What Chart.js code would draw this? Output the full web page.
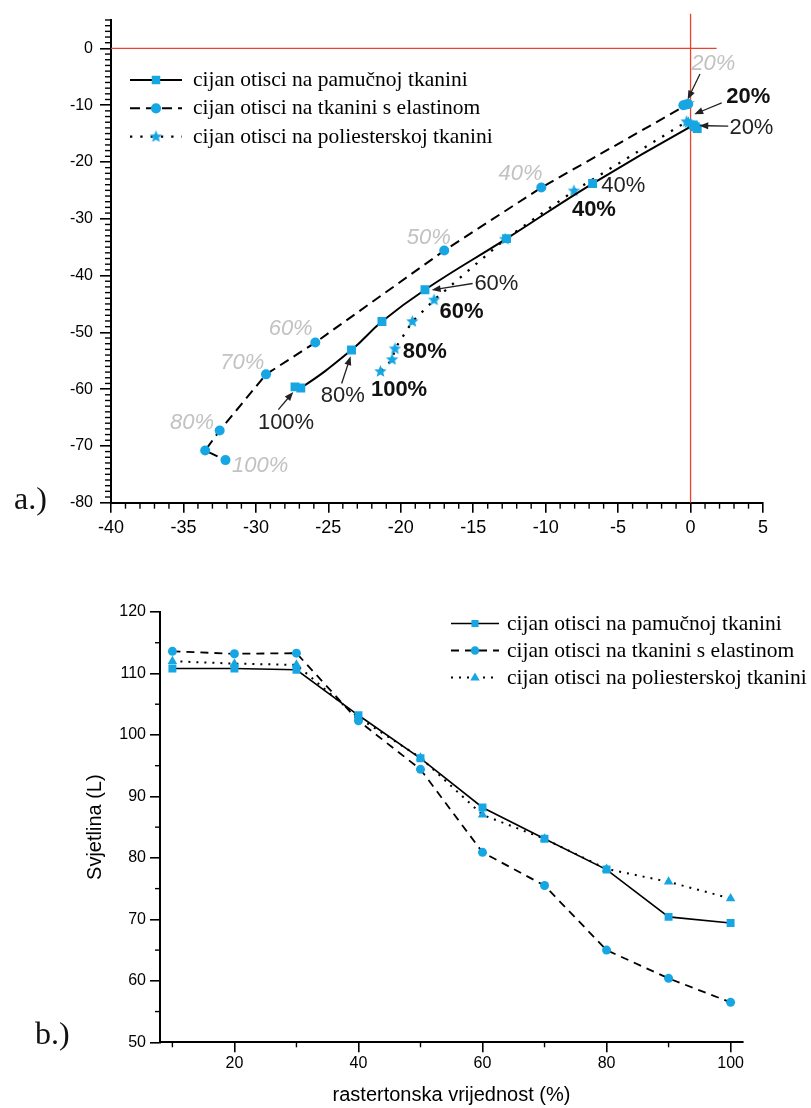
<!DOCTYPE html>
<html>
<head>
<meta charset="utf-8">
<script src="https://cdn.jsdelivr.net/npm/chart.js@4.4.1/dist/chart.umd.min.js"></script>
<style>
body { margin: 0; background: #fff; }
#wrap { position: relative; width: 811px; height: 1108px; }
#chartA { position: absolute; left: 0; top: 0; }
#chartB { position: absolute; left: 0; top: 560px; }
</style>
</head>
<body>
<div id="wrap">
<canvas id="chartA" width="811" height="545"></canvas>
<canvas id="chartB" width="811" height="548"></canvas>
</div>
<script>
// series names (same for both panels)
var seriesNames = ['cijan otisci na pamučnoj tkanini', 'cijan otisci na tkanini s elastinom', 'cijan otisci na poliesterskoj tkanini'];
var rasterValues = [10, 20, 30, 40, 50, 60, 70, 80, 90, 100];

// panel a.), 10% ... 100%
var pamukX = [0.46, 0.32, 0.19, -6.76, -12.7, -18.33, -21.3, -23.4, -26.9, -27.3];
var pamukY = [-14.1, -13.8, -13.5, -23.8, -33.5, -42.5, -48.1, -53.1, -59.8, -59.6];
var elastinX = [-0.5, -0.32, -0.16, -10.3, -17.0, -25.9, -29.3, -32.5, -33.5, -32.1];
var elastinY = [-10.0, -9.9, -9.8, -24.5, -35.6, -51.8, -57.4, -67.3, -70.8, -72.5];
var poliX = [0.0, -0.15, -0.27, -8.05, -12.8, -17.7, -19.2, -20.4, -20.6, -21.4];
var poliY = [-13.3, -13.1, -12.9, -25.1, -33.6, -44.3, -48.1, -52.9, -54.8, -56.9];

var ticksAX = [-40, -35, -30, -25, -20, -15, -10, -5, 0, 5];
var ticksAY = [-80, -70, -60, -50, -40, -30, -20, -10, 0];

// panel b.) - Svjetlina (L)
var pamukL = [110.8, 110.8, 110.6, 103.2, 96.2, 88.2, 83.1, 78.1, 70.4, 69.4];
var elastinL = [113.6, 113.2, 113.3, 102.3, 94.4, 80.9, 75.5, 65.0, 60.4, 56.5];
var poliL = [112.0, 111.6, 111.4, 102.8, 96.3, 87.0, 83.1, 78.2, 76.1, 73.4];

var ticksBX = [20, 40, 60, 80, 100];
var ticksBY = [50, 60, 70, 80, 90, 100, 110, 120];

// percent labels on panel a.) (label centre, optional arrow from -> to, in axis units)
var notesA = [
    {t: '20%', s: 'gray', x: 1.57, y: -2.35, a: [0.65, -4.5, -0.2, -9.0]},
    {t: '20%', s: 'bold', x: 3.98, y: -8.2, a: [2.15, -9.6, 0.25, -11.6]},
    {t: '20%', s: 'norm', x: 4.2, y: -13.7, a: [2.6, -13.7, 0.6, -13.6]},
    {t: '40%', s: 'norm', x: -4.64, y: -23.9},
    {t: '40%', s: 'bold', x: -6.67, y: -28.2},
    {t: '40%', s: 'gray', x: -11.73, y: -21.7},
    {t: '50%', s: 'gray', x: -18.07, y: -33.0},
    {t: '60%', s: 'norm', x: -13.4, y: -41.2, a: [-15.04, -41.4, -17.87, -42.55]},
    {t: '60%', s: 'bold', x: -15.8, y: -46.1},
    {t: '60%', s: 'gray', x: -27.6, y: -49.1},
    {t: '70%', s: 'gray', x: -30.94, y: -55.05},
    {t: '80%', s: 'gray', x: -34.4, y: -65.7},
    {t: '100%', s: 'gray', x: -29.7, y: -73.2},
    {t: '80%', s: 'norm', x: -24.0, y: -60.9, a: [-24.08, -59.0, -23.46, -54.2]},
    {t: '100%', s: 'norm', x: -27.92, y: -65.6, a: [-28.45, -63.6, -27.42, -60.5]},
    {t: '80%', s: 'bold', x: -18.35, y: -53.1},
    {t: '100%', s: 'bold', x: -20.12, y: -59.9}
];

var CYAN = '#16a6e3';
var SANS = '"Liberation Sans", Arial, sans-serif';
var SERIF = '"Liberation Serif", "Times New Roman", serif';

var noteStyles = {
    gray: {font: 'italic 22px ' + SANS, color: '#c2c2c2', size: 22},
    bold: {font: 'bold 22px ' + SANS, color: '#111', size: 22},
    norm: {font: '22px ' + SANS, color: '#222', size: 22}
};

function zip(xs, ys) {
    return xs.map(function (x, i) { return {x: x, y: ys[i]}; });
}

function makeStar(r, color) {
    var c = document.createElement('canvas');
    var s = Math.ceil(r * 2 + 2);
    c.width = s; c.height = s;
    var g = c.getContext('2d');
    g.fillStyle = color;
    g.beginPath();
    for (var i = 0; i < 10; i++) {
        var rr = i % 2 ? r * 0.45 : r;
        var ang = -Math.PI / 2 + i * Math.PI / 5;
        g.lineTo(s / 2 + rr * Math.cos(ang), s / 2 + rr * Math.sin(ang));
    }
    g.closePath();
    g.fill();
    return c;
}
var starImg = makeStar(6.5, CYAN);

function drawMarker(ctx, style, x, y, r, color) {
    ctx.fillStyle = color;
    ctx.beginPath();
    if (style === 'rect') {
        var h = r * Math.SQRT1_2;
        ctx.rect(x - h, y - h, 2 * h, 2 * h);
    } else if (style === 'circle') {
        ctx.arc(x, y, r * 0.85, 0, Math.PI * 2);
    } else if (style === 'triangle') {
        ctx.moveTo(x, y - r);
        ctx.lineTo(x + r * 0.95, y + r * 0.6);
        ctx.lineTo(x - r * 0.95, y + r * 0.6);
        ctx.closePath();
    } else {
        ctx.drawImage(style, x - style.width / 2, y - style.height / 2);
        return;
    }
    ctx.fill();
}

function isMajor(v, step) {
    return Math.abs(v / step - Math.round(v / step)) < 1e-6;
}

// small ticks between the labelled ones
var minorTicks = {
    id: 'minorTicks',
    afterDraw: function (chart, args, o) {
        var ctx = chart.ctx, area = chart.chartArea;
        var xs = chart.scales.x, ys = chart.scales.y;
        ctx.save();
        ctx.strokeStyle = '#000';
        ctx.lineWidth = o.width;
        var v, p;
        for (v = o.xFrom; v <= o.xTo + 1e-9; v += o.xStep) {
            if (isMajor(v, o.xMajor)) continue;
            p = xs.getPixelForValue(v);
            ctx.beginPath(); ctx.moveTo(p, area.bottom); ctx.lineTo(p, area.bottom + o.len); ctx.stroke();
        }
        for (v = o.yFrom; v <= o.yTo + 1e-9; v += o.yStep) {
            if (isMajor(v, o.yMajor)) continue;
            p = ys.getPixelForValue(v);
            ctx.beginPath(); ctx.moveTo(area.left, p); ctx.lineTo(area.left - o.len, p); ctx.stroke();
        }
        ctx.restore();
    }
};

// legend drawn like the original (line + marker + serif text) and the panel letter
var seriesKey = {
    id: 'seriesKey',
    afterDraw: function (chart, args, o) {
        var ctx = chart.ctx;
        chart.data.datasets.forEach(function (ds, i) {
            var y = o.rows[i];
            ctx.save();
            ctx.strokeStyle = ds.borderColor;
            ctx.lineWidth = ds.borderWidth;
            ctx.setLineDash(ds.borderDash || []);
            ctx.beginPath(); ctx.moveTo(o.x, y); ctx.lineTo(o.x + o.w, y); ctx.stroke();
            ctx.setLineDash([]);
            drawMarker(ctx, ds.pointStyle, o.x + o.w / 2, y, o.r, CYAN);
            ctx.fillStyle = '#000';
            ctx.font = o.font;
            ctx.textAlign = 'left';
            ctx.textBaseline = 'alphabetic';
            ctx.fillText(ds.label, o.textX, y + o.base);
            ctx.restore();
        });
        ctx.save();
        ctx.fillStyle = '#111';
        ctx.font = '32px ' + SERIF;
        ctx.textAlign = 'left';
        ctx.fillText(o.panel, o.panelX, o.panelY);
        ctx.restore();
    }
};

// red zero lines of panel a.)
var zeroLines = {
    id: 'zeroLines',
    beforeDatasetsDraw: function (chart) {
        var ctx = chart.ctx, xs = chart.scales.x, ys = chart.scales.y;
        ctx.save();
        ctx.strokeStyle = '#e8432f';
        ctx.lineWidth = 1.3;
        ctx.beginPath();
        ctx.moveTo(xs.getPixelForValue(-40), ys.getPixelForValue(0));
        ctx.lineTo(xs.getPixelForValue(1.8), ys.getPixelForValue(0));
        ctx.moveTo(xs.getPixelForValue(0), ys.getPixelForValue(6.1));
        ctx.lineTo(xs.getPixelForValue(0), ys.getPixelForValue(-80));
        ctx.stroke();
        ctx.restore();
    }
};

function arrow(ctx, x1, y1, x2, y2) {
    var ang = Math.atan2(y2 - y1, x2 - x1), L = 9, W = 3.5;
    ctx.beginPath();
    ctx.moveTo(x1, y1);
    ctx.lineTo(x2 - Math.cos(ang) * L * 0.8, y2 - Math.sin(ang) * L * 0.8);
    ctx.stroke();
    ctx.beginPath();
    ctx.moveTo(x2, y2);
    ctx.lineTo(x2 - Math.cos(ang) * L + Math.sin(ang) * W, y2 - Math.sin(ang) * L - Math.cos(ang) * W);
    ctx.lineTo(x2 - Math.cos(ang) * L - Math.sin(ang) * W, y2 - Math.sin(ang) * L + Math.cos(ang) * W);
    ctx.closePath();
    ctx.fill();
}

var percentNotes = {
    id: 'percentNotes',
    afterDatasetsDraw: function (chart) {
        var ctx = chart.ctx, xs = chart.scales.x, ys = chart.scales.y;
        ctx.save();
        notesA.forEach(function (n) {
            var st = noteStyles[n.s];
            ctx.font = st.font;
            ctx.fillStyle = st.color;
            ctx.textAlign = 'center';
            ctx.textBaseline = 'alphabetic';
            ctx.fillText(n.t, xs.getPixelForValue(n.x), ys.getPixelForValue(n.y) + st.size * 0.36);
            if (n.a) {
                ctx.strokeStyle = '#222';
                ctx.fillStyle = '#222';
                ctx.lineWidth = 1.3;
                arrow(ctx, xs.getPixelForValue(n.a[0]), ys.getPixelForValue(n.a[1]),
                    xs.getPixelForValue(n.a[2]), ys.getPixelForValue(n.a[3]));
            }
        });
        ctx.restore();
    }
};

function axis(opts) {
    return {
        type: 'linear',
        min: opts.min,
        max: opts.max,
        afterBuildTicks: function (s) { s.ticks = opts.ticks.map(function (v) { return {value: v}; }); },
        afterFit: opts.fit,
        grid: {drawOnChartArea: false, drawTicks: true, tickLength: opts.tickLen, color: '#000', lineWidth: 1.6},
        border: {display: true, color: '#000', width: 2},
        ticks: {color: '#000', font: {family: SANS, size: opts.fontSize}, padding: opts.pad, maxRotation: 0, autoSkip: false},
        title: opts.title || {display: false}
    };
}

// ---------- a.) ----------
new Chart(document.getElementById('chartA'), {
    type: 'scatter',
    data: {
        datasets: [
            {label: seriesNames[0], data: zip(pamukX, pamukY), showLine: true, tension: 0.45,
                borderColor: '#000', borderWidth: 2, pointStyle: 'rect', pointRadius: 6.3,
                pointBackgroundColor: CYAN, pointBorderColor: CYAN, pointBorderWidth: 0},
            {label: seriesNames[1], data: zip(elastinX, elastinY), showLine: true, tension: 0,
                borderColor: '#000', borderWidth: 2, borderDash: [10, 6], pointStyle: 'circle', pointRadius: 5,
                pointBackgroundColor: CYAN, pointBorderColor: CYAN, pointBorderWidth: 0},
            {label: seriesNames[2], data: zip(poliX, poliY), showLine: true, tension: 0,
                borderColor: '#000', borderWidth: 2.3, borderDash: [2.3, 8], pointStyle: starImg, pointRadius: 6,
                pointBackgroundColor: CYAN, pointBorderColor: CYAN, pointBorderWidth: 0}
        ]
    },
    options: {
        responsive: false,
        animation: false,
        devicePixelRatio: 1,
        layout: {padding: {left: 0, top: 20, right: 48, bottom: 0}},
        plugins: {
            legend: {display: false},
            tooltip: {enabled: false},
            minorTicks: {width: 1.4, len: 6, xFrom: -40, xTo: 5, xStep: 1, xMajor: 5, yFrom: -80, yTo: 5, yStep: 1, yMajor: 10},
            seriesKey: {x: 130, w: 52, r: 6, textX: 193, rows: [80, 108.3, 136.7], base: 6,
                font: '21.5px ' + SERIF, panel: 'a.)', panelX: 14, panelY: 509}
        },
        scales: {
            x: axis({min: -40, max: 5, ticks: ticksAX, tickLen: 10, fontSize: 18, pad: 5,
                fit: function (s) { s.height = 42.3; }}),
            y: axis({min: -80, max: 5, ticks: ticksAY, tickLen: 11, fontSize: 16, pad: 7,
                fit: function (s) { s.width = 111; }})
        }
    },
    plugins: [zeroLines, minorTicks, percentNotes, seriesKey]
});

// ---------- b.) ----------
new Chart(document.getElementById('chartB'), {
    type: 'scatter',
    data: {
        datasets: [
            {label: seriesNames[0], data: zip(rasterValues, pamukL), showLine: true,
                borderColor: '#000', borderWidth: 1.6, pointStyle: 'rect', pointRadius: 5.6,
                pointBackgroundColor: CYAN, pointBorderColor: CYAN, pointBorderWidth: 0},
            {label: seriesNames[1], data: zip(rasterValues, elastinL), showLine: true,
                borderColor: '#000', borderWidth: 1.8, borderDash: [8, 6], pointStyle: 'circle', pointRadius: 4.5,
                pointBackgroundColor: CYAN, pointBorderColor: CYAN, pointBorderWidth: 0},
            {label: seriesNames[2], data: zip(rasterValues, poliL), showLine: true,
                borderColor: '#000', borderWidth: 2, borderDash: [2, 6], pointStyle: 'triangle', pointRadius: 5.5,
                pointBackgroundColor: CYAN, pointBorderColor: CYAN, pointBorderWidth: 0}
        ]
    },
    options: {
        responsive: false,
        animation: false,
        devicePixelRatio: 1,
        layout: {padding: {left: 0, top: 52, right: 68, bottom: 0}},
        plugins: {
            legend: {display: false},
            tooltip: {enabled: false},
            minorTicks: {width: 1.4, len: 5, xFrom: 10, xTo: 100, xStep: 10, xMajor: 20, yFrom: 50, yTo: 120, yStep: 5, yMajor: 10},
            seriesKey: {x: 451, w: 48, r: 5, textX: 507, rows: [63.5, 90.5, 117.5], base: 6,
                font: '21.5px ' + SERIF, panel: 'b.)', panelX: 35, panelY: 484}
        },
        scales: {
            x: axis({min: 8, max: 102, ticks: ticksBX, tickLen: 10, fontSize: 16, pad: 2,
                fit: function (s) { s.height = 65.7; },
                title: {display: true, text: 'rastertonska vrijednost (%)', color: '#000',
                    font: {family: SANS, size: 20}, padding: {top: 0, bottom: 1}}}),
            y: axis({min: 50, max: 120, ticks: ticksBY, tickLen: 10, fontSize: 16, pad: 4,
                fit: function (s) { s.width = 160; },
                title: {display: true, text: 'Svjetlina (L)', color: '#000',
                    font: {family: SANS, size: 20}, padding: {top: 83, bottom: 0}}})
        }
    },
    plugins: [minorTicks, seriesKey]
});
</script>
</body>
</html>
